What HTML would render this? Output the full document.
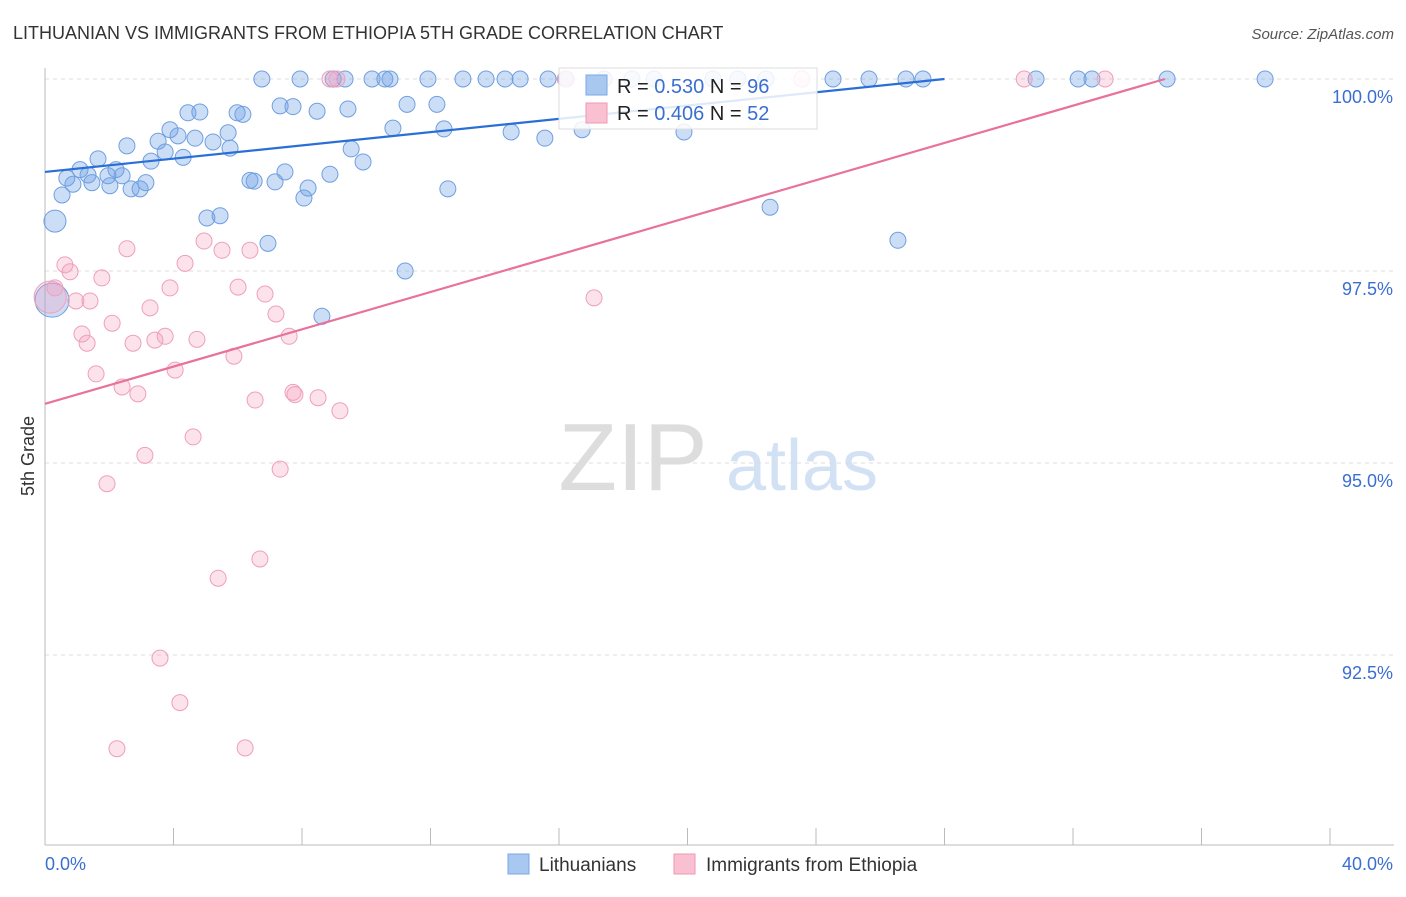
<!DOCTYPE html>
<html><head><meta charset="utf-8"><style>
body{margin:0;background:#fff;font-family:"Liberation Sans",sans-serif}
svg text{font-family:"Liberation Sans",sans-serif}
</style></head><body>
<svg id="chart" width="1406" height="892" xmlns="http://www.w3.org/2000/svg">
<text x="13" y="39" font-size="18" fill="#333">LITHUANIAN VS IMMIGRANTS FROM ETHIOPIA 5TH GRADE CORRELATION CHART</text>
<text x="1394" y="39" font-size="15" fill="#555" text-anchor="end" font-style="italic">Source: ZipAtlas.com</text>
<g>
<text x="633" y="490" font-size="96" fill="#ddd" text-anchor="middle" font-family="Liberation Serif,serif">ZIP</text>
<text x="802" y="490" font-size="72" fill="#d3e1f5" text-anchor="middle">atlas</text>
</g>
<g id="grid"></g><g id="axes"></g><g id="pts"></g><g id="lines"></g>
<text transform="translate(34,456) rotate(-90)" font-size="18" fill="#333" text-anchor="middle">5th Grade</text>
<g>
<rect x="559" y="68" width="258" height="61" fill="#fff" fill-opacity="0.85" stroke="#ddd"/>
<rect x="586" y="75" width="21" height="20" fill="#a8c8f0" stroke="#7aa7e3"/>
<rect x="586" y="103" width="21" height="20" fill="#f8c0d0" stroke="#ee9ab4"/>
<text x="617" y="93" font-size="20" fill="#222">R = <tspan fill="#3a6fd0">0.530</tspan>   N = <tspan fill="#3a6fd0">96</tspan></text>
<text x="617" y="120" font-size="20" fill="#222">R = <tspan fill="#3a6fd0">0.406</tspan>   N = <tspan fill="#3a6fd0">52</tspan></text>
</g>
<g>
<rect x="508" y="854" width="21" height="20" fill="#a8c8f0" stroke="#7aa7e3"/>
<text x="539" y="871" font-size="19" fill="#333">Lithuanians</text>
<rect x="674" y="854" width="21" height="20" fill="#f8c0d0" stroke="#ee9ab4"/>
<text x="706" y="871" font-size="19" fill="#333">Immigrants from Ethiopia</text>
</g>
</svg>
<script>
const yTicks=[100,97.5,95,92.5];
const yTickLabels=["100.0%","97.5%","95.0%","92.5%"];
const xTickVals=[0,4,8,12,16,20,24,28,32,36,40];
const blueX=[6.75,7.94,8.97,9.34,10.18,10.58,10.74,11.92,13.01,13.73,14.32,14.79,15.66,16.22,17.40,18.27,18.96,20.79,21.57,22.44,24.53,25.65,26.80,27.33,30.85,32.16,32.59,34.93,37.98,
7.32,7.72,8.47,9.43,4.45,4.82,5.98,6.16,11.27,12.20,3.89,10.83,12.42,14.51,15.56,16.72,19.89,3.52,4.14,4.67,5.23,5.70,5.76,2.55,3.74,4.30,3.30,1.65,9.53,9.90,1.09,2.21,1.34,0.68,0.87,1.46,1.96,2.40,2.68,2.96,3.14,2.02,6.38,6.51,7.16,7.47,8.19,8.06,8.87,12.54,0.53,0.31,5.04,5.45,6.94,11.21,8.62,22.57,26.55,0.22];
const blueY=[100,100,100,100,100,100,100,100,100,100,100,100,100,100,100,100,100,100,100,100,100,100,100,100,100,100,100,100,100,
99.65,99.64,99.58,99.61,99.56,99.57,99.56,99.54,99.67,99.67,99.34,99.36,99.35,99.31,99.23,99.34,99.31,99.19,99.26,99.23,99.18,99.30,99.10,99.13,99.05,98.98,98.93,98.96,99.09,98.92,98.82,98.82,98.75,98.71,98.63,98.65,98.74,98.74,98.57,98.57,98.65,98.61,98.68,98.67,98.66,98.79,98.58,98.45,98.76,98.57,98.49,98.15,98.19,98.22,97.86,97.50,96.91,98.33,97.90,97.12];
const pinkX=[8.87,9.09,16.19,23.56,30.48,33.00,0.62,0.78,1.77,2.55,4.95,5.51,6.38,4.36,3.89,6.01,6.85,0.96,1.40,0.31,3.27,7.19,2.09,1.15,1.31,2.74,3.42,3.74,4.73,7.60,5.88,1.59,4.05,2.40,2.89,7.72,7.78,8.50,6.54,9.18,4.61,3.11,7.32,1.93,6.69,5.39,3.58,4.20,2.24,6.23,17.09,0.16];
const pinkY=[100,100,100,100,100,100,97.58,97.49,97.41,97.79,97.89,97.77,97.77,97.60,97.28,97.29,97.20,97.11,97.11,97.28,97.02,96.94,96.82,96.68,96.56,96.56,96.60,96.65,96.61,96.65,96.39,96.16,96.21,95.99,95.90,95.92,95.89,95.85,95.82,95.68,95.34,95.10,94.92,94.73,93.75,93.50,92.46,91.88,91.28,91.29,97.15,97.16];
const blueLine=[[0,98.79],[28.0,100]];
const pinkLine=[[0,95.77],[34.86,100]];
const NS="http://www.w3.org/2000/svg";
const sx=v=>45+v/40*1285, sy=v=>79+(100-v)/2.5*192;
function mk(tag,attrs,parent){const e=document.createElementNS(NS,tag);for(const k in attrs)e.setAttribute(k,attrs[k]);document.getElementById(parent).appendChild(e);return e;}
yTicks.forEach((t,i)=>{
 const g=mk('line',{x1:45,x2:1394,y1:sy(t),y2:sy(t),stroke:'#ddd','stroke-dasharray':'4,4'},'grid');
 
 
 const tx=mk('text',{x:1393,y:sy(t)+24,'font-size':18,fill:'#3a6fd0','text-anchor':'end'},'axes');tx.textContent=yTickLabels[i];
 
 
});
const ax=mk('line',{x1:45,x2:45,y1:68,y2:845,stroke:'#bbb'},'axes');


const bx=mk('line',{x1:45,x2:1394,y1:845,y2:845,stroke:'#bbb'},'axes');


xTickVals.forEach(v=>{const t=mk('line',{x1:sx(v),x2:sx(v),y1:828,y2:845,stroke:'#bbb'},'axes');
 
 });
const l0=mk('text',{x:45,y:870,'font-size':18,fill:'#3a6fd0'},'axes');l0.textContent='0.0%';


const l1=mk('text',{x:1393,y:870,'font-size':18,fill:'#3a6fd0','text-anchor':'end'},'axes');l1.textContent='40.0%';


blueX.forEach((x,i)=>{const r=(i===blueX.length-1)?17:(x<0.4?11:8);
 const c=mk('circle',{cx:sx(x),cy:sy(blueY[i]),r:r,fill:'rgba(110,160,230,0.35)',stroke:'#6f9fe0','stroke-width':1},'pts');
 
 });
pinkX.forEach((x,i)=>{const r=(i===pinkX.length-1)?16:8;
 const c=mk('circle',{cx:sx(x),cy:sy(pinkY[i]),r:r,fill:'rgba(244,160,188,0.3)',stroke:'#ef9fba','stroke-width':1},'pts');
 
 });
const bl=mk('line',{x1:sx(blueLine[0][0]),y1:sy(blueLine[0][1]),x2:sx(blueLine[1][0]),y2:sy(blueLine[1][1]),stroke:'#2a6fd6','stroke-width':2.2},'lines');


const pl=mk('line',{x1:sx(pinkLine[0][0]),y1:sy(pinkLine[0][1]),x2:sx(pinkLine[1][0]),y2:sy(pinkLine[1][1]),stroke:'#e8729a','stroke-width':2.2},'lines');


</script>
</body></html>
